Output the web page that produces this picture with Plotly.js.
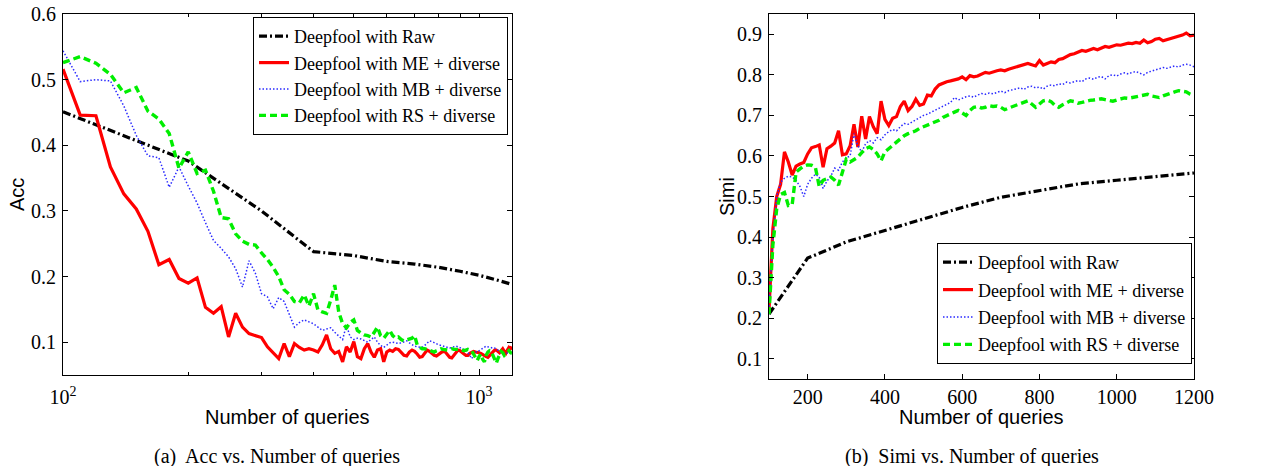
<!DOCTYPE html>
<html>
<head>
<meta charset="utf-8">
<script src="https://cdn.plot.ly/plotly-3.0.1.min.js"></script>
<style>html,body{margin:0;padding:0;background:#fff;}#chart{width:1270px;height:466px;}</style>
</head>
<body>
<div id="chart"></div>
<script>
// ---- shared query grid (number of queries) ----
var queries = [100,110,120,130,140,150,160,170,180,190,
200,210,220,230,240,250,260,270,280,290,
300,310,320,330,340,350,360,370,380,390,
400,410,420,430,440,450,460,470,480,490,
500,510,520,530,540,550,560,570,580,590,
600,610,620,630,640,650,660,670,680,690,
700,710,720,730,740,750,760,770,780,790,
800,810,820,830,840,850,860,870,880,890,
900,910,920,930,940,950,960,970,980,990,
1000,1010,1020,1030,1040,1050,1060,1070,1080,1090,
1100,1110,1120,1130,1140,1150,1160,1170,1180,1190,
1200];
var rawQueries = [100,200,300,400,500,600,700,800,900,1000,1100,1200];

var seriesNames = ['Deepfool with Raw','Deepfool with ME + diverse','Deepfool with MB + diverse','Deepfool with RS + diverse'];

// ---- (a) Acc ----
var accRaw = [0.451,0.376,0.300,0.238,0.232,0.223,0.219,0.214,0.208,0.202,0.195,0.188];
var accME = [0.516,0.446,0.445,0.367,0.326,0.303,0.269,0.218,0.226,0.197,
0.190,0.198,0.153,0.144,0.154,0.108,0.144,0.123,0.113,0.110,
0.107,0.093,0.084,0.075,0.098,0.078,0.098,0.092,0.088,0.090,
0.088,0.085,0.096,0.111,0.090,0.083,0.086,0.070,0.093,0.085,
0.101,0.078,0.075,0.090,0.098,0.085,0.077,0.088,0.090,0.070,
0.085,0.088,0.086,0.090,0.089,0.084,0.080,0.079,0.085,0.088,
0.086,0.082,0.077,0.078,0.084,0.088,0.086,0.083,0.080,0.079,
0.082,0.084,0.086,0.085,0.081,0.077,0.076,0.080,0.085,0.088,
0.087,0.084,0.082,0.080,0.080,0.083,0.085,0.086,0.085,0.085,
0.084,0.083,0.081,0.079,0.078,0.077,0.080,0.083,0.086,0.088,
0.088,0.086,0.084,0.087,0.090,0.086,0.083,0.088,0.092,0.090,
0.093];
var accMB = [0.544,0.497,0.500,0.498,0.460,0.415,0.384,0.381,0.336,0.367,
0.338,0.312,0.282,0.255,0.243,0.230,0.212,0.184,0.224,0.205,
0.174,0.169,0.151,0.168,0.162,0.142,0.123,0.130,0.134,0.131,
0.128,0.123,0.118,0.120,0.122,0.115,0.110,0.104,0.126,0.108,
0.104,0.106,0.105,0.103,0.100,0.104,0.108,0.100,0.095,0.092,
0.096,0.099,0.100,0.099,0.098,0.099,0.101,0.102,0.099,0.096,
0.094,0.093,0.093,0.092,0.095,0.099,0.102,0.101,0.099,0.097,
0.096,0.095,0.094,0.093,0.091,0.091,0.092,0.093,0.094,0.093,
0.091,0.090,0.089,0.088,0.084,0.079,0.075,0.080,0.084,0.087,
0.087,0.089,0.091,0.093,0.094,0.093,0.092,0.091,0.091,0.091,
0.090,0.088,0.086,0.084,0.083,0.082,0.083,0.084,0.085,0.085,
0.085];
var accRS = [0.526,0.535,0.525,0.508,0.480,0.488,0.452,0.440,0.418,0.365,
0.390,0.357,0.362,0.330,0.290,0.288,0.265,0.254,0.249,0.248,
0.236,0.226,0.214,0.200,0.180,0.173,0.162,0.160,0.172,0.155,
0.174,0.149,0.146,0.144,0.164,0.187,0.146,0.128,0.122,0.130,
0.134,0.118,0.114,0.111,0.110,0.108,0.115,0.123,0.110,0.106,
0.112,0.118,0.110,0.106,0.108,0.104,0.102,0.103,0.104,0.106,
0.110,0.096,0.092,0.090,0.090,0.089,0.087,0.086,0.085,0.087,
0.089,0.090,0.089,0.088,0.088,0.089,0.090,0.089,0.089,0.090,
0.089,0.088,0.087,0.088,0.089,0.088,0.087,0.082,0.076,0.072,
0.078,0.082,0.074,0.070,0.080,0.085,0.087,0.086,0.080,0.072,
0.068,0.075,0.082,0.086,0.084,0.080,0.082,0.085,0.087,0.084,
0.083];

// ---- (b) Simi ----
var simRaw = [0.210,0.348,0.388,0.416,0.445,0.473,0.498,0.515,0.531,0.540,0.549,0.558];
var simME = [0.220,0.420,0.500,0.530,0.610,0.585,0.553,0.575,0.580,0.584,
0.605,0.620,0.623,0.627,0.572,0.618,0.624,0.632,0.662,0.603,
0.605,0.625,0.678,0.622,0.698,0.642,0.697,0.672,0.655,0.735,
0.690,0.675,0.693,0.697,0.722,0.735,0.712,0.722,0.740,0.725,
0.728,0.750,0.748,0.765,0.775,0.780,0.783,0.785,0.787,0.790,
0.795,0.788,0.798,0.795,0.797,0.802,0.806,0.804,0.808,0.810,
0.812,0.810,0.814,0.817,0.820,0.823,0.826,0.828,0.825,0.822,
0.835,0.824,0.828,0.832,0.830,0.838,0.840,0.845,0.850,0.852,
0.855,0.860,0.858,0.862,0.865,0.862,0.866,0.870,0.868,0.872,
0.874,0.873,0.876,0.878,0.877,0.880,0.878,0.886,0.879,0.882,
0.888,0.890,0.884,0.887,0.890,0.892,0.894,0.898,0.903,0.896,
0.898];
var simMB = [0.220,0.400,0.500,0.535,0.545,0.550,0.548,0.540,0.525,0.500,
0.530,0.545,0.555,0.548,0.520,0.538,0.550,0.570,0.565,0.585,
0.595,0.600,0.655,0.625,0.610,0.630,0.638,0.632,0.645,0.640,
0.652,0.660,0.665,0.662,0.672,0.680,0.678,0.684,0.690,0.695,
0.700,0.703,0.708,0.712,0.718,0.722,0.728,0.732,0.744,0.738,
0.742,0.746,0.748,0.745,0.750,0.754,0.752,0.755,0.753,0.757,
0.760,0.756,0.761,0.763,0.766,0.768,0.764,0.770,0.772,0.768,
0.770,0.765,0.772,0.775,0.773,0.778,0.776,0.782,0.780,0.784,
0.786,0.783,0.790,0.792,0.789,0.794,0.796,0.790,0.798,0.800,
0.797,0.802,0.805,0.802,0.806,0.808,0.804,0.800,0.806,0.810,
0.812,0.815,0.818,0.816,0.820,0.822,0.819,0.824,0.826,0.824,
0.820];
var simRS = [0.210,0.380,0.470,0.505,0.510,0.478,0.480,0.560,0.568,0.575,
0.578,0.577,0.572,0.525,0.540,0.545,0.548,0.540,0.528,0.560,
0.592,0.585,0.590,0.597,0.608,0.618,0.622,0.616,0.605,0.588,
0.610,0.618,0.625,0.632,0.640,0.650,0.655,0.658,0.662,0.668,
0.672,0.676,0.680,0.684,0.688,0.695,0.700,0.704,0.708,0.712,
0.706,0.700,0.712,0.720,0.722,0.718,0.720,0.724,0.722,0.723,
0.720,0.714,0.718,0.722,0.726,0.730,0.734,0.736,0.728,0.720,
0.728,0.736,0.738,0.734,0.725,0.720,0.726,0.732,0.736,0.734,
0.730,0.732,0.735,0.737,0.738,0.740,0.741,0.739,0.736,0.735,
0.738,0.741,0.743,0.742,0.744,0.746,0.748,0.750,0.752,0.748,
0.745,0.744,0.748,0.752,0.755,0.758,0.761,0.760,0.758,0.752,
0.748];

var accTicks = [0.1,0.2,0.3,0.4,0.5,0.6];
var simTicks = [0.1,0.2,0.3,0.4,0.5,0.6,0.7,0.8,0.9];
var logTickVals = [100,1000];
var logTickText = ['10<sup>2</sup>','10<sup>3</sup>'];
var logMinor = [200,300,400,500,600,700,800,900];
var linTicks = [200,400,600,800,1000,1200];

// ---- styles ----
var styles = [
  {color:'#000000', width:3.2, dash:'8px,3px,2px,3px'},
  {color:'#ff0000', width:3.2, dash:'solid'},
  {color:'#2a2aff', width:1.5, dash:'1.5px,2px'},
  {color:'#00ee00', width:3.4, dash:'7px,4px'}
];

function tr(x, y, i, xa, ya, leg, grp) {
  var t = {x:x, y:y, type:'scatter', mode:'lines', name:seriesNames[i],
    line:{color:styles[i].color, width:styles[i].width, dash:styles[i].dash},
    xaxis:xa, yaxis:ya, legend:leg, hoverinfo:'skip'};
  if (grp) t.legendgroup = grp;
  return t;
}

var data = [
  tr(rawQueries, accRaw, 0, 'x', 'y', 'legend'),
  tr(queries, accME, 1, 'x', 'y', 'legend'),
  tr(queries, accMB, 2, 'x', 'y', 'legend'),
  tr(queries, accRS, 3, 'x', 'y', 'legend'),
  tr(rawQueries, simRaw, 0, 'x2', 'y2', 'legend2', 'g0'),
  tr(queries, simME, 1, 'x2', 'y2', 'legend2', 'g1'),
  tr(queries, simMB, 2, 'x2', 'y2', 'legend2', 'g2'),
  tr(queries, simRS, 3, 'x2', 'y2', 'legend2', 'g3')
];

var tickFont = {family:'Liberation Serif, Times New Roman, serif', size:20, color:'#000'};
var titleFont = {family:'Liberation Sans, Arial, sans-serif', size:20, color:'#000'};
var legFont = {family:'Liberation Serif, Times New Roman, serif', size:18, color:'#000'};
var legFont2 = {family:'Liberation Serif, Times New Roman, serif', size:18, color:'#000'};
var capFont = {family:'Liberation Serif, Times New Roman, serif', size:20, color:'#000'};

function axisBase(extra) {
  var a = {showline:true, linecolor:'#000', linewidth:1, mirror:'ticks', ticks:'inside',
    ticklen:5, tickcolor:'#000', tickwidth:1, showgrid:false, zeroline:false,
    tickfont:tickFont, fixedrange:true, automargin:false};
  for (var k in extra) a[k] = extra[k];
  return a;
}

var W = 1270, H = 466;
function px(v){ return v / W; }
function py(v){ return 1 - v / H; }

function ann(text, x, y, font, angle) {
  var a = {text:text, x:px(x), y:py(y), xref:'paper', yref:'paper', showarrow:false,
    xanchor:'center', yanchor:'middle', font:font};
  if (angle) a.textangle = angle;
  return a;
}

var layout = {
  width:W, height:H, margin:{l:0,r:0,t:0,b:0},
  paper_bgcolor:'#fff', plot_bgcolor:'#fff', showlegend:true,
  xaxis: axisBase({domain:[px(63), px(512)], type:'log', range:[2, Math.log10(1200)],
    tickmode:'array', tickvals:logTickVals, ticktext:logTickText, ticklen:6, ticklabelstandoff:4,
    minor:{tickmode:'array', tickvals:logMinor, ticks:'inside', ticklen:3, tickcolor:'#000', showgrid:false},
    anchor:'y'}),
  yaxis: axisBase({domain:[py(375), py(14)], range:[0.05, 0.6], tickmode:'array', tickvals:accTicks,
    ticktext:accTicks.map(function(v){return v.toFixed(1);}), ticklabelstandoff:2, anchor:'x'}),
  xaxis2: axisBase({domain:[px(769), px(1194)], range:[100, 1200], tickmode:'array', tickvals:linTicks,
    ticklabelstandoff:0, anchor:'y2'}),
  yaxis2: axisBase({domain:[py(379), py(14)], range:[0.05, 0.95], tickmode:'array', tickvals:simTicks,
    ticktext:simTicks.map(function(v){return v.toFixed(1);}), ticklabelstandoff:2, anchor:'x2'}),
  legend: {x:px(508), y:py(17), xanchor:'right', yanchor:'top', bgcolor:'#fff',
    bordercolor:'#000', borderwidth:1, font:legFont, itemwidth:30, traceorder:'normal'},
  legend2: {x:px(1192), y:py(243), xanchor:'right', yanchor:'top', bgcolor:'#fff',
    bordercolor:'#000', borderwidth:1, font:legFont2, itemwidth:30, traceorder:'grouped', tracegroupgap:1},
  annotations: [
    ann('Acc', 17, 195, titleFont, -90),
    ann('Number of queries', 287.5, 417, titleFont),
    ann('Simi', 727, 197, titleFont, -90),
    ann('Number of queries', 981.5, 417, titleFont),
    ann('(a)  Acc vs. Number of queries', 277, 456, capFont),
    ann('(b)  Simi vs. Number of queries', 972, 456, capFont)
  ]
};

Plotly.newPlot('chart', data, layout, {displayModeBar:false, staticPlot:true});
</script>
</body>
</html>
